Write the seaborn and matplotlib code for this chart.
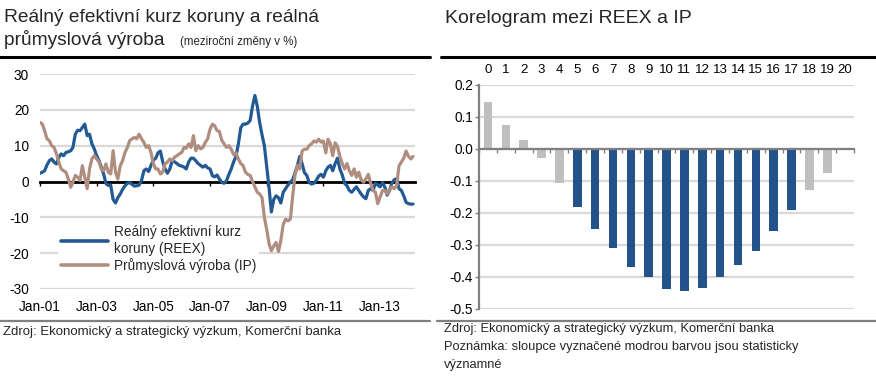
# -*- coding: utf-8 -*-
# REEX vs prumyslova vyroba + korelogram
import numpy as np
import pandas as pd
import matplotlib
matplotlib.use("Agg")
import matplotlib.pyplot as plt
from matplotlib.lines import Line2D
from matplotlib.ticker import FormatStrFormatter
import seaborn as sns

# %% data (mesicni, meziročni zmeny v %)
reex = [2.3, 2.6, 3.0, 4.6, 5.8, 6.3, 5.4, 4.9, 6.8, 7.7, 7.2, 8.1,
        8.3, 8.6, 9.5, 13.2, 14.3, 14.2, 15.1, 16.0, 12.8, 13.2, 10.5, 9.1,
        7.2, 5.8, 4.0, 2.1, -0.6, -1.1, -1.0, -5.0, -6.0, -4.5, -3.5, -2.2,
        -1.2, -0.5, -0.3, -0.8, -1.3, -1.2, -1.0, 0.3, 3.0, 3.5, 2.8, 4.5,
        6.0, 6.5, 8.0, 8.5, 5.5, 3.5, 2.3, 3.5, 5.8, 5.5, 5.0, 4.5,
        4.3, 4.0, 3.5, 5.5, 6.5, 6.5, 5.8, 5.0, 4.5, 4.0, 4.5, 3.8,
        3.5, 1.6, 1.3, 1.8, 0.7, -0.2, -0.5, 0.2, 2.0, 3.5, 5.5, 7.0,
        10.5, 15.0, 16.0, 16.0, 16.3, 17.0, 21.0, 24.0, 21.0, 16.5, 13.0, 10.0,
        4.0, -2.0, -8.5, -5.0, -4.0, -4.5, -6.0, -3.0, -2.0, -1.0, -0.2, 0.5,
        2.5, 4.5, 7.0, 5.0, 2.5, 1.7, -0.3, -0.7, -0.5, 0.3, 1.5, 2.0,
        1.2, 3.0, 4.0, 4.5, 3.0, 5.0, 6.5, 3.5, 1.8, -0.5, -1.2, -2.5,
        -3.0, -2.2, -1.5, -2.5, -3.5, -4.3, -4.8, -2.5, -2.0, -2.5, -0.5, -1.0,
        -1.5, -0.3, -1.5, -3.8, -2.5, -0.5, 0.5, 0.8, -2.0, -2.5, -4.0, -5.8,
        -6.2, -6.3, -6.3]

ip = [16.5, 16.0, 14.2, 11.9, 11.4, 10.0, 9.5, 7.7, 5.4, 3.5, 3.0, 2.6,
      0.7, -1.6, -0.2, 1.7, 1.2, 0.3, 4.4, 1.2, -2.0, 3.5, 6.3, 7.2,
      6.3, 5.4, 3.5, 3.0, 4.9, 2.6, 2.1, 8.6, 2.6, 0.7, 4.4, 5.8,
      8.1, 9.5, 11.4, 11.9, 12.3, 11.9, 13.2, 11.9, 10.9, 9.5, 10.0, 8.1,
      4.9, 3.5, 3.5, 2.1, 2.6, 4.9, 5.4, 6.3, 5.8, 6.8, 7.2, 7.7,
      8.1, 9.5, 9.3, 10.5, 9.5, 12.8, 8.6, 10.0, 9.1, 9.5, 10.9, 11.9,
      14.6, 16.0, 15.6, 14.2, 14.0, 11.5, 10.5, 9.5, 10.0, 9.0, 7.5, 8.0,
      6.3, 5.0, 4.5, 2.6, 2.0, 1.7, 0.0, -1.5, -3.0, -3.5, -4.5, -10.0,
      -13.5, -17.5, -19.3, -18.0, -17.0, -19.5, -16.5, -12.0, -10.5, -11.0, -10.5, -4.0,
      2.0, 4.5, 3.5, 8.5, 9.0, 9.0, 10.0, 10.5, 11.3, 11.0, 11.8, 11.0,
      11.3, 8.0, 11.8, 10.5, 7.2, 10.8, 9.8, 7.0, 5.0, 3.5, 5.0, 3.0,
      1.7, 3.5, 1.2, 2.6, 0.5, -0.2, 0.7, 2.0, -0.5, -2.5, -3.0, -6.2,
      -4.3, -2.5, -2.5, -3.5, -2.2, -1.5, -2.0, -1.1, 4.4, 5.4, 6.5, 8.5,
      7.0, 6.3, 7.0]

serie_names = ["Reálný efektivní kurz\nkoruny (REEX)", "Průmyslová výroba (IP)"]
year_ticks = ["2001-01-01", "2003-01-01", "2005-01-01", "2007-01-01",
              "2009-01-01", "2011-01-01", "2013-01-01"]
year_labels = ["Jan-01", "Jan-03", "Jan-05", "Jan-07", "Jan-09", "Jan-11", "Jan-13"]

lags = [str(i) for i in range(21)]
corr = [0.148, 0.076, 0.029, -0.027, -0.107, -0.180, -0.251, -0.309, -0.369, -0.401,
        -0.438, -0.443, -0.433, -0.401, -0.363, -0.320, -0.255, -0.190, -0.128, -0.074,
        0.0]
signif = [False] * 5 + [True] * 13 + [False] * 3

# %% barvy
c_reex = "#235A94"
c_ip = "#B08E7F"
c_bar = "#24528A"
c_bar_ns = "#BFBFBF"
c_grid = "#D9D9D9"
c_axis = "#808080"

sns.set_theme(style="white")
plt.rcParams["font.family"] = ["Liberation Sans", "DejaVu Sans"]
plt.rcParams["axes.unicode_minus"] = False

W, H = 876, 376
fig = plt.figure(figsize=(W / 100, H / 100), dpi=100)

def box(x0, y0, x1, y1):
    # pixel box (top-left origin) -> figure fraction
    return [x0 / W, 1 - y1 / H, (x1 - x0) / W, (y1 - y0) / H]

# %% levy graf
months = pd.date_range("2001-01-01", periods=len(reex), freq="MS")
df = pd.DataFrame({"date": months, serie_names[0]: reex, serie_names[1]: ip})
df = df.melt(id_vars="date", var_name="serie", value_name="val")

ax1 = fig.add_axes(box(40, 74, 415, 289))
sns.lineplot(data=df, x="date", y="val", hue="serie", hue_order=serie_names,
             palette=[c_reex, c_ip], lw=2.3, ax=ax1, zorder=3)
ax1.set_ylim(-30, 30)
ax1.set_yticks(range(-30, 31, 10))
ax1.set_xlim(months[0], pd.Timestamp("2014-03-26"))
ax1.set_xticks(pd.to_datetime(year_ticks))
ax1.set_xticklabels(year_labels)
ax1.set_xlabel("")
ax1.set_ylabel("")
ax1.yaxis.grid(True, color=c_grid, lw=1.6)
ax1.xaxis.grid(False)
for s in ["left", "right", "top"]:
    ax1.spines[s].set_visible(False)
ax1.spines["bottom"].set_position(("data", 0))
ax1.spines["bottom"].set_color("black")
ax1.spines["bottom"].set_linewidth(2)
ax1.spines["bottom"].set_zorder(2.5)
ax1.tick_params(axis="x", bottom=True, direction="out", length=3, width=1,
                color="black", pad=82, labelsize=9.8, labelcolor="black")
ax1.tick_params(axis="y", left=False, length=0, pad=8, labelsize=9.8,
                labelcolor="black")
leg = ax1.legend(loc="upper left", bbox_to_anchor=(0.03, 0.34), frameon=True,
                 facecolor="white", edgecolor="none", framealpha=1, fontsize=9.8,
                 handlelength=3.5, handletextpad=0.4, labelspacing=0.15,
                 borderpad=0.2)
for h in leg.get_lines():
    h.set_linewidth(2.6)

# %% pravy graf - korelogram
bar_df = pd.DataFrame({"lag": lags, "corr": corr,
                       "sig": ["ano" if s else "ne" for s in signif]})
ax2 = fig.add_axes(box(479, 85, 854, 309))
sns.barplot(data=bar_df, x="lag", y="corr", hue="sig",
            palette={"ano": c_bar, "ne": c_bar_ns}, dodge=False, width=0.48,
            saturation=1, legend=False, linewidth=0, ax=ax2)
ax2.set_xlim(-0.5, 20.5)
ax2.set_ylim(-0.5, 0.2)
ax2.set_yticks(np.round(np.arange(-5, 3) / 10, 1))
ax2.yaxis.set_major_formatter(FormatStrFormatter("%.1f"))
ax2.set_xlabel("")
ax2.set_ylabel("")
ax2.set_axisbelow(True)
ax2.yaxis.grid(True, color=c_grid, lw=1.6)
ax2.xaxis.grid(False)
for s in ["right", "top"]:
    ax2.spines[s].set_visible(False)
ax2.spines["left"].set_color(c_axis)
ax2.spines["left"].set_linewidth(1.6)
ax2.spines["bottom"].set_position(("data", 0))
ax2.spines["bottom"].set_color(c_axis)
ax2.spines["bottom"].set_linewidth(1.6)
ax2.set_xticks(np.arange(-0.5, 21, 1), minor=True)
ax2.tick_params(axis="x", which="major", bottom=False, top=False,
                labelbottom=False, labeltop=True, pad=0.5, labelsize=9.5,
                labelcolor="black")
ax2.tick_params(axis="x", which="minor", bottom=True, direction="out",
                length=3, width=1, color=c_axis)
ax2.tick_params(axis="y", left=True, direction="out", length=3, width=1,
                color=c_axis, pad=1.5, labelsize=9.8, labelcolor="black")

# %% texty a linky
def fy(y):
    return 1 - y / H

fig.text(4 / W, fy(22), "Reálný efektivní kurz koruny a reálná", fontsize=13.8,
         va="baseline", ha="left")
fig.text(4 / W, fy(45), "průmyslová výroba", fontsize=13.8, va="baseline", ha="left")
fig.text(180 / W, fy(45), "(meziroční změny v %)", fontsize=8.3, va="baseline", ha="left")
fig.text(445 / W, fy(23), "Korelogram mezi REEX a IP", fontsize=14,
         va="baseline", ha="left")

fig.text(3 / W, fy(335), "Zdroj: Ekonomický a strategický výzkum, Komerční banka",
         fontsize=9.5, va="baseline", ha="left")
fig.text(444 / W, fy(332), "Zdroj: Ekonomický a strategický výzkum, Komerční banka",
         fontsize=9.3, va="baseline", ha="left")
fig.text(444 / W, fy(350), "Poznámka: sloupce vyznačené modrou barvou jsou statisticky",
         fontsize=9.3, va="baseline", ha="left")
fig.text(444 / W, fy(368), "významné", fontsize=9.3, va="baseline", ha="left")

fig.add_artist(Line2D([0, 430 / W], [fy(56.5)] * 2, color="black", lw=2.2))
fig.add_artist(Line2D([441 / W, 1], [fy(56.5)] * 2, color="black", lw=2.2))
fig.add_artist(Line2D([0, 430 / W], [fy(321)] * 2, color=c_axis, lw=1.6))
fig.add_artist(Line2D([437 / W, 1], [fy(321)] * 2, color=c_axis, lw=1.6))

fig.savefig("out.png", dpi=100)
